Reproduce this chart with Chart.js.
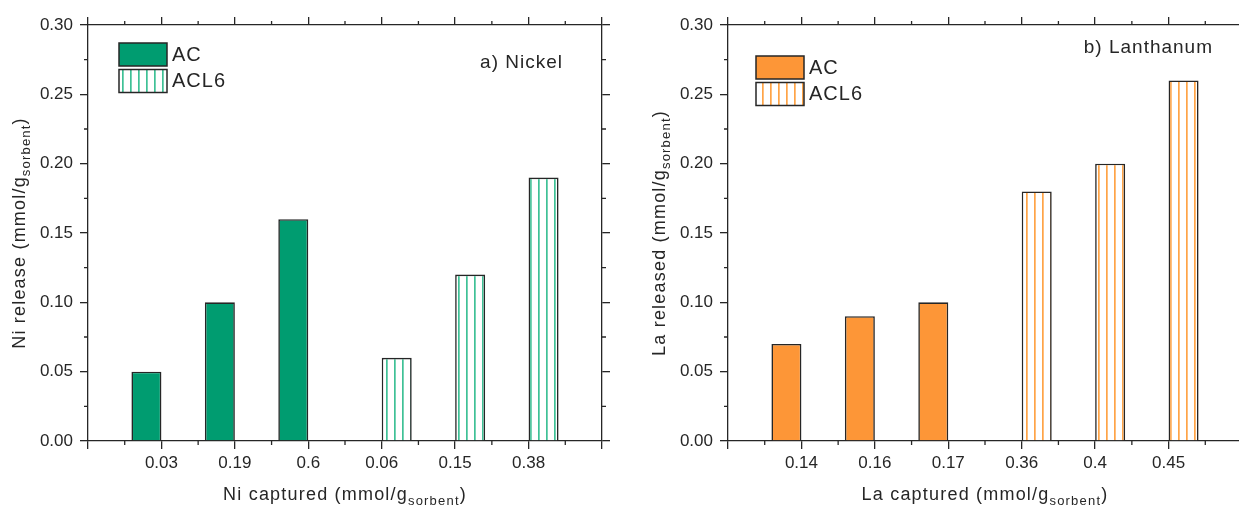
<!DOCTYPE html>
<html>
<head>
<meta charset="utf-8">
<script src="https://cdn.jsdelivr.net/npm/chart.js@4.4.1/dist/chart.umd.min.js"></script>
<style>
  html, body { margin: 0; padding: 0; background: #fff; width: 1239px; height: 507px; overflow: hidden; }
  .panel { position: absolute; top: 0; width: 620px; height: 507px; }
</style>
</head>
<body>
<div class="panel" style="left:0"><canvas id="nickel" width="620" height="507"></canvas></div>
<div class="panel" style="left:640px"><canvas id="lanthanum" width="620" height="507"></canvas></div>
<script>
// captured amounts (x categories) and released amounts per sorbent
const niCaptured = ['0.03', '0.19', '0.6', '0.06', '0.15', '0.38'];
const niAC = [0.05, 0.10, 0.16];
const niACL6 = [0.06, 0.12, 0.19];

const laCaptured = ['0.14', '0.16', '0.17', '0.36', '0.4', '0.45'];
const laAC = [0.07, 0.09, 0.10];
const laACL6 = [0.18, 0.20, 0.26];

const yTicks = [0, 0.05, 0.10, 0.15, 0.20, 0.25, 0.30];

const INK = '#262626';
const FONT = '"Liberation Sans", Arial, sans-serif';
Chart.defaults.font.family = FONT;
Chart.defaults.color = INK;

function stripes(color) {
    const c = document.createElement('canvas');
    c.width = 8; c.height = 8;
    const g = c.getContext('2d');
    g.fillStyle = '#fff';
    g.fillRect(0, 0, 8, 8);
    g.fillStyle = color;
    g.fillRect(2, 0, 1.7, 8);
    return g.createPattern(c, 'repeat');
}

// short ticks half way between the major ones, on all four sides
const minorTicks = {
    id: 'minorTicks',
    afterDraw(chart) {
        const ctx = chart.ctx;
        const a = chart.chartArea;
        ctx.save();
        ctx.strokeStyle = INK;
        ctx.lineWidth = 1.3;
        ctx.beginPath();
        const xs = chart.scales.x;
        for (let i = 0; i < xs.ticks.length - 1; i++) {
            const px = (xs.getPixelForTick(i) + xs.getPixelForTick(i + 1)) / 2;
            ctx.moveTo(px, a.bottom); ctx.lineTo(px, a.bottom + 4);
            ctx.moveTo(px, a.top); ctx.lineTo(px, a.top - 4);
        }
        const ys = chart.scales.y;
        for (let i = 0; i < yTicks.length - 1; i++) {
            const py = ys.getPixelForValue((yTicks[i] + yTicks[i + 1]) / 2);
            ctx.moveTo(a.left, py); ctx.lineTo(a.left - 4, py);
            ctx.moveTo(a.right, py); ctx.lineTo(a.right + 4, py);
        }
        ctx.stroke();
        ctx.restore();
    }
};

function subText(ctx, pre, sub, post) {
    const big = '18px ' + FONT, small = '13px ' + FONT;
    ctx.letterSpacing = '1.2px';
    ctx.font = big;
    const w1 = ctx.measureText(pre).width;
    const w3 = ctx.measureText(post).width;
    ctx.font = small;
    const w2 = ctx.measureText(sub).width;
    let x = -(w1 + w2 + w3) / 2;
    ctx.textAlign = 'left';
    ctx.textBaseline = 'alphabetic';
    ctx.font = big; ctx.fillText(pre, x, 0); x += w1;
    ctx.font = small; ctx.fillText(sub, x, 5); x += w2;
    ctx.font = big; ctx.fillText(post, x, 0);
}

// axis titles with the "sorbent" subscript, panel note and box legend
const decorations = {
    id: 'decorations',
    afterDraw(chart, args, opts) {
        const ctx = chart.ctx;
        const a = chart.chartArea;
        ctx.save();
        ctx.fillStyle = INK;

        ctx.save();
        ctx.translate((a.left + a.right) / 2, 500);
        subText(ctx, opts.xTitle + ' (mmol/g', 'sorbent', ')');
        ctx.restore();

        ctx.save();
        ctx.translate(25, (a.top + a.bottom) / 2);
        ctx.rotate(-Math.PI / 2);
        subText(ctx, opts.yTitle + ' (mmol/g', 'sorbent', ')');
        ctx.restore();

        ctx.letterSpacing = '1px';
        ctx.font = '19px ' + FONT;
        ctx.textAlign = 'right';
        ctx.textBaseline = 'alphabetic';
        ctx.fillText(opts.note, opts.noteX, opts.noteY);

        ctx.font = '20px ' + FONT;
        ctx.textAlign = 'left';
        ctx.textBaseline = 'middle';
        chart.data.datasets.forEach((ds, i) => {
            const bx = a.left + opts.legendX;
            const by = a.top + opts.legendY + i * 26.5;
            ctx.fillStyle = ds.backgroundColor;
            ctx.fillRect(bx, by, 48, 23);
            ctx.strokeStyle = INK;
            ctx.lineWidth = 1.5;
            ctx.strokeRect(bx, by, 48, 23);
            ctx.fillStyle = INK;
            ctx.fillText(ds.label, bx + 53, by + 12);
        });
        ctx.restore();
    }
};

function axisX(position, showLabels, h) {
    return {
        type: 'category',
        position: position,
        offset: false,
        grid: { offset: false, drawOnChartArea: false, tickLength: 8, color: INK, tickColor: INK, lineWidth: 1.3 },
        border: { color: INK, width: 1.3 },
        ticks: { display: showLabels, autoSkip: false, maxRotation: 0, padding: 4, font: { size: 17 } },
        afterFit: s => { s.height = h; }
    };
}

function axisY(position, showLabels, w) {
    return {
        type: 'linear',
        position: position,
        min: 0,
        max: 0.3,
        grid: { drawOnChartArea: false, tickLength: 8, color: INK, tickColor: INK, lineWidth: 1.3 },
        border: { color: INK, width: 1.3 },
        afterBuildTicks: s => { s.ticks = yTicks.map(v => ({ value: v })); },
        ticks: { display: showLabels, padding: 7, font: { size: 17 }, callback: v => v.toFixed(2) },
        afterFit: s => { s.width = w; }
    };
}

function makeChart(id, cats, ac, acl6, solid, stripe, deco) {
    const labels = ['', ...cats, ''];
    const dataAC = [null, ...ac, null, null, null, null];
    const dataACL6 = [null, null, null, null, ...acl6, null];
    return new Chart(document.getElementById(id), {
        type: 'bar',
        data: {
            labels: labels,
            datasets: [
                { label: 'AC', data: dataAC, backgroundColor: solid, borderColor: INK, borderWidth: 1.6, xAxisID: 'x', yAxisID: 'y' },
                { label: 'ACL6', data: dataACL6, backgroundColor: stripes(stripe), borderColor: INK, borderWidth: 1.6, xAxisID: 'x', yAxisID: 'y' }
            ]
        },
        options: {
            responsive: false,
            animation: false,
            devicePixelRatio: 1,
            categoryPercentage: 60 / 73.43,
            barPercentage: 1,
            layout: { padding: 0 },
            scales: {
                x: axisX('bottom', true, 66),
                x2: Object.assign(axisX('top', false, 25), { labels: labels }),
                y: axisY('left', true, 88),
                y2: axisY('right', false, 18)
            },
            plugins: {
                legend: { display: false },
                tooltip: { enabled: false },
                decorations: deco
            }
        },
        plugins: [minorTicks, decorations]
    });
}

makeChart('nickel', niCaptured, niAC, niACL6, '#009c70', '#3fc196', {
    xTitle: 'Ni captured', yTitle: 'Ni release', note: 'a) Nickel',
    noteX: 563, noteY: 68, legendX: 31, legendY: 18
});

makeChart('lanthanum', laCaptured, laAC, laACL6, '#fd9637', '#ffa447', {
    xTitle: 'La captured', yTitle: 'La released', note: 'b) Lanthanum',
    noteX: 573, noteY: 53, legendX: 28, legendY: 31
});
</script>
</body>
</html>
